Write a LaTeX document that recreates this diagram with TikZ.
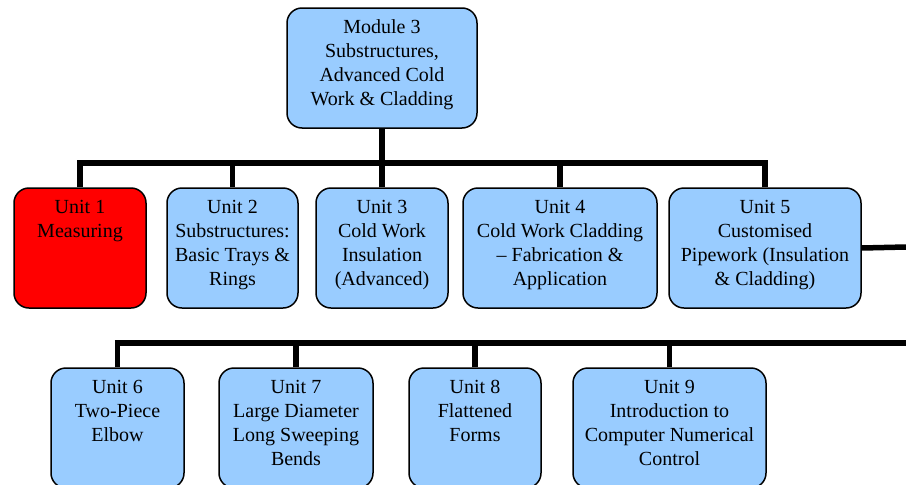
\documentclass[tikz,border=0pt]{standalone}
\usepackage{fontspec}
\usetikzlibrary{calc}
\setmainfont{Liberation Serif}
\newfontfamily\boxfont[Ligatures=TeX]{Liberation Serif}
\definecolor{boxblue}{HTML}{99CCFF}
\definecolor{boxred}{HTML}{FF0000}
\tikzset{
  unitbox/.style={draw=black, line width=1.5pt, rounded corners=15pt, fill=boxblue, minimum height=120pt, inner sep=0pt},
  redbox/.style={unitbox, fill=boxred},
  boxtext/.style={anchor=north, align=center, inner sep=0pt, yshift=-12.5pt, font=\boxfont\fontsize{20}{24}\selectfont},
  link/.style={line width=5.5pt, line cap=butt}
}
\begin{document}
\begin{tikzpicture}[x=1pt,y=-1pt]
\useasboundingbox (0,0) rectangle (906,485);
\clip (0,0) rectangle (906,485);
% boxes
\node[unitbox, minimum width=190pt, label={[boxtext]north:Module 3\\Substructures,\\Advanced Cold\\Work \& Cladding}] (mod) at (382,68) {};
\node[redbox, minimum width=132pt, label={[boxtext]north:Unit 1\\Measuring}] (u1) at (80,248) {};
\node[unitbox, minimum width=131pt, label={[boxtext]north:Unit 2\\Substructures:\\Basic Trays \&\\Rings}] (u2) at (232.5,248) {};
\node[unitbox, minimum width=132pt, label={[boxtext]north:Unit 3\\Cold Work\\Insulation\\(Advanced)}] (u3) at (382,248) {};
\node[unitbox, minimum width=194pt, label={[boxtext]north:Unit 4\\Cold Work Cladding\\– Fabrication \&\\Application}] (u4) at (560,248) {};
\node[unitbox, minimum width=192pt, label={[boxtext]north:Unit 5\\Customised\\Pipework (Insulation\\\& Cladding)}] (u5) at (765,248) {};
\node[unitbox, minimum width=133pt, label={[boxtext]north:Unit 6\\Two-Piece\\Elbow}] (u6) at (117.5,428) {};
\node[unitbox, minimum width=154pt, label={[boxtext]north:Unit 7\\Large Diameter\\Long Sweeping\\Bends}] (u7) at (296,428) {};
\node[unitbox, minimum width=132pt, label={[boxtext]north:Unit 8\\Flattened\\Forms}] (u8) at (475,428) {};
\node[unitbox, minimum width=193pt, label={[boxtext]north:Unit 9\\Introduction to\\Computer Numerical\\Control}] (u9) at (669.5,428) {};
% connector points
\coordinate (bar1) at (382,163);
\coordinate (edge1) at (906,247);
\coordinate (bar2end) at (906,343);
% connectors
\draw[link] (mod.south) -- (bar1);
\draw[link] ($(u1.north |- bar1)+(-2.75,0)$) -- ($(u5.north |- bar1)+(2.75,0)$);
\foreach \u in {u1,u2,u3,u4,u5} \draw[link] (\u.north) -- (\u.north |- bar1);
\draw[link] (u5.east) -- (edge1);
\draw[link] ($(u6.north |- bar2end)+(-2.75,0)$) -- (bar2end);
\foreach \u in {u6,u7,u8,u9} \draw[link] (\u.north) -- (\u.north |- bar2end);
\end{tikzpicture}
\end{document}
